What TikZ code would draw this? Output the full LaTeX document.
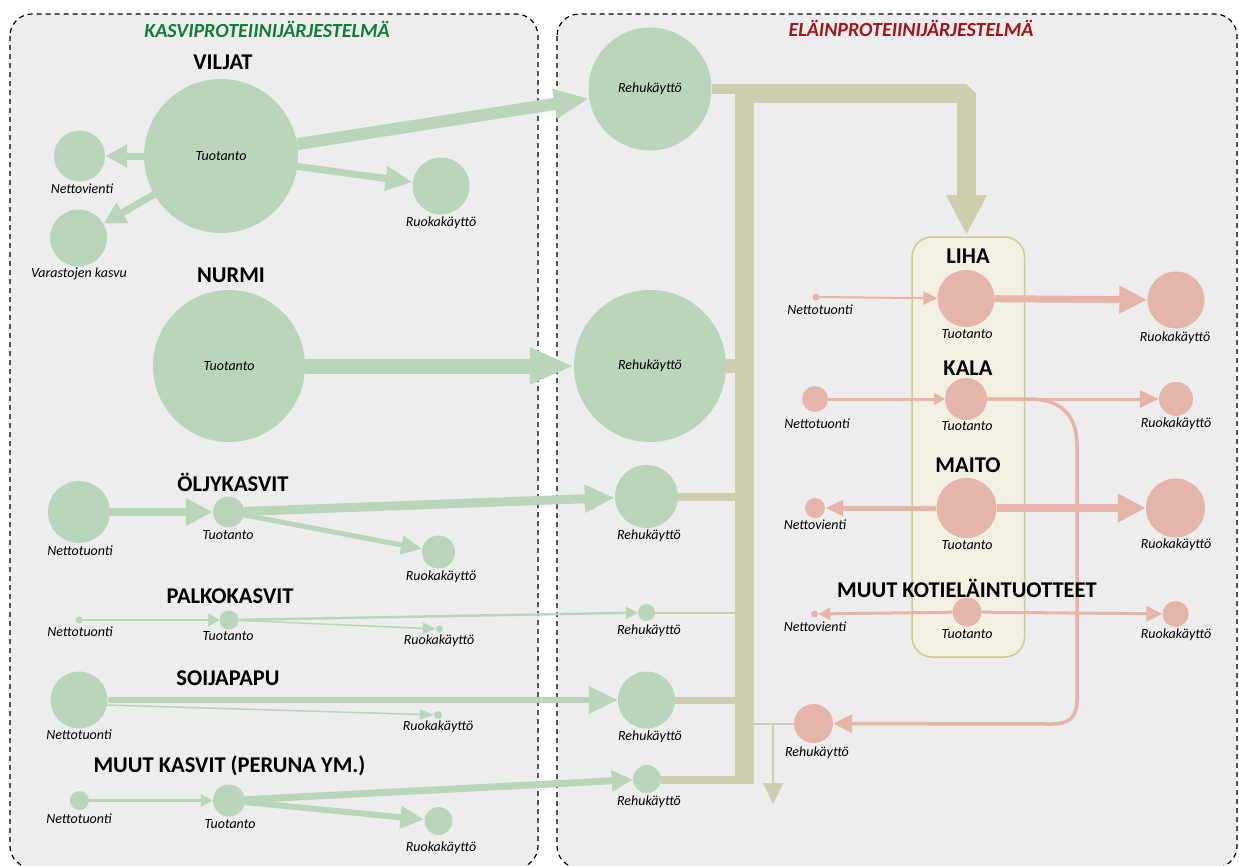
\documentclass[tikz,border=0pt]{standalone}
\usepackage{fontspec}
\setmainfont{Carlito}
\usetikzlibrary{arrows.meta}

\definecolor{plant}{HTML}{B9D6BA}
\definecolor{animal}{HTML}{E5B5A9}
\definecolor{feed}{HTML}{CFCEB0}
\definecolor{panel}{HTML}{EDEDED}
\definecolor{boxfill}{HTML}{F2F0E2}
\definecolor{boxline}{HTML}{CDCA96}
\definecolor{titlegreen}{HTML}{117A3C}
\definecolor{titlered}{HTML}{A0141C}

% small italic labels and bold group headings
\newcommand{\lbl}[1]{{\fontsize{14}{16}\selectfont\itshape #1}}
\newcommand{\hdg}[1]{{\fontsize{22.5}{24}\selectfont\bfseries #1}}

\tikzset{
  pc/.style={circle, fill=plant, inner sep=0pt, minimum size=#1},
  ac/.style={circle, fill=animal, inner sep=0pt, minimum size=#1},
  lab/.style={inner sep=0pt, anchor=center},
  head/.style={inner sep=0pt, anchor=center},
  flow/.style n args={4}{draw=#1, line width=#2, -{Triangle[length=#3, width=#4]}},
  feedbar/.style={draw=feed, line width=#1},
  panelbox/.style={draw=black, fill=panel, line width=1.2pt, dash pattern=on 5pt off 4pt, rounded corners=22pt},
}

\begin{document}
\begin{tikzpicture}[x=1pt, y=-1pt]
\useasboundingbox (0,0) rectangle (1239,865);
\fill[white] (0,0) rectangle (1239,865);

% the two systems
\draw[panelbox] (10,14) rectangle (538,868);
\draw[panelbox] (557,14) rectangle (1237,868);

% animal production box
\draw[draw=boxline, fill=boxfill, line width=1.5pt, rounded corners=20pt] (912,237) rectangle (1024.5,657);

% ---------- plant circles ----------
\node[pc=154] (vt) at (221,156) {\lbl{Tuotanto}};
\node[pc=51]  (vn) at (79.5,156) {};
\node[pc=57]  (vv) at (78.5,238) {};
\node[pc=57]  (vr) at (441,186) {};
\node[pc=152] (nt) at (229,366) {\lbl{Tuotanto}};

\node[pc=62] (on) at (79,512) {};
\node[pc=31] (ot) at (228.5,512) {};
\node[pc=33] (or) at (438.5,552) {};

\node[pc=7]  (pn) at (79,620) {};
\node[pc=19] (pt) at (229,620) {};
\node[pc=7]  (pr) at (439.5,629) {};

\node[pc=57] (sn) at (79,700) {};
\node[pc=8]  (sr) at (438,715) {};

\node[pc=19] (mn) at (79.5,800.5) {};
\node[pc=32] (mt) at (229,800.5) {};
\node[pc=28] (mr) at (438.5,821) {};

% feed use circles
\node[pc=123] (r1) at (650,89) {\lbl{Rehukäyttö}};
\node[pc=152] (r2) at (650,366) {\lbl{Rehukäyttö}};
\node[pc=63]  (r3) at (646.5,496.5) {};
\node[pc=17]  (r4) at (646.5,612.5) {};
\node[pc=57]  (r5) at (646.5,700) {};
\node[pc=28]  (r6) at (647,779) {};

% ---------- animal circles ----------
\node[ac=7]  (ln) at (816,297) {};
\node[ac=57] (lt) at (966,298.5) {};
\node[ac=57] (lr) at (1176,300) {};

\node[ac=26] (kn) at (815,399) {};
\node[ac=42] (kt) at (966,399) {};
\node[ac=34] (kr) at (1176,399) {};

\node[ac=20] (man) at (815,508) {};
\node[ac=60] (mat) at (966.5,508) {};
\node[ac=59] (mar) at (1175.5,508) {};

\node[ac=7]  (kon) at (814.5,614) {};
\node[ac=29] (kot) at (967,612) {};
\node[ac=26] (kor) at (1175.6,614) {};

\node[ac=39] (kfr) at (813.5,723.5) {};

% ---------- feed collector ----------
\coordinate (busbot) at (744,784);
\coordinate (busleft) at (744,93.5);
\coordinate (busright) at (966.5,93.5);
\coordinate (feedin) at (966.5,235);
\draw[feedbar=19pt, line join=bevel, -{Triangle[length=40pt, width=38pt]}]
  (busbot) -- (busleft) -- (busright) -- (feedin);

\draw[feedbar=10pt] (r1.east) -- (r1.east -| busbot);
\draw[feedbar=14pt] (r2.east) -- (r2.east -| busbot);
\draw[feedbar=8pt]  (r3.east) -- (r3.east -| busbot);
\draw[feedbar=2pt]  (r4.east) -- (r4.east -| busbot);
\draw[feedbar=7pt]  (r5.east) -- (r5.east -| busbot);
\coordinate (r6in) at (744,780);
\draw[feedbar=8pt]  (r6.east |- r6in) -- (r6in);

% branch to fish feed use
\coordinate (tap) at (753,723.5);
\coordinate (drop) at (773,723.5);
\coordinate (dropend) at (773,804);
\draw[feedbar=2pt] (tap) -- (kfr);
\draw[flow={feed}{2pt}{21pt}{20pt}] (drop) -- (dropend);

% ---------- plant flows ----------
\draw[flow={plant}{7pt}{22pt}{21pt}] (vt) -- (vn);
\draw[flow={plant}{7pt}{22pt}{22pt}] (vt) -- (vv);
\draw[flow={plant}{7pt}{27pt}{23pt}] (vt) -- (vr);
\draw[flow={plant}{12pt}{35pt}{28pt}] (vt) -- (r1);
\draw[flow={plant}{15pt}{44pt}{34pt}] (nt) -- (r2);

\draw[flow={plant}{8pt}{27pt}{26pt}] (on) -- (ot);
\draw[flow={plant}{9pt}{30pt}{26pt}] (ot) -- (r3);
\draw[flow={plant}{5pt}{21pt}{18pt}] (ot) -- (or);

\draw[flow={plant}{2pt}{11pt}{13pt}] (pn) -- (pt);
\draw[flow={plant}{2.5pt}{12pt}{12pt}] (pt) -- (r4);
\draw[flow={plant}{1.5pt}{13pt}{11pt}] (pt) -- (pr);

\draw[flow={plant}{6.5pt}{29pt}{26pt}] (sn) -- (r5);
\draw[flow={plant}{1.5pt}{14pt}{10pt}] (sn.-10) -- (sr);

\draw[flow={plant}{3pt}{12pt}{12pt}] (mn) -- (mt);
\draw[flow={plant}{7pt}{21pt}{20pt}] (mt) -- (r6);
\draw[flow={plant}{6pt}{24pt}{21pt}] (mt) -- (mr);

% ---------- animal flows ----------
\draw[flow={animal}{2pt}{14pt}{13pt}] (ln) -- (lt);
\draw[flow={animal}{7pt}{28pt}{26pt}] (lt) -- (lr);
\draw[flow={animal}{3pt}{11pt}{12pt}] (kn) -- (kt);
\draw[flow={animal}{3pt}{19pt}{17pt}] (kt) -- (kr);
\draw[flow={animal}{5pt}{18pt}{15pt}] (mat) -- (man);
\draw[flow={animal}{8pt}{28pt}{27pt}] (mat) -- (mar);
\draw[flow={animal}{3pt}{12pt}{12pt}] (kot) -- (kon);
\draw[flow={animal}{3pt}{16pt}{15pt}] (kot) -- (kor);

% fish used as feed
\draw[flow={animal}{3.5pt}{19pt}{18pt}]
  (kt.east) -- (1030,399) .. controls (1060,399) and (1077,415) .. (1077,445)
  -- (1077,700) .. controls (1077,718) and (1068,724) .. (1052,724) -- (kfr);

% ---------- labels ----------
\node[lab] (vnL) at (82,189) {\lbl{Nettovienti}};
\node[lab] (vvL) at (79,274) {\lbl{Varastojen kasvu}};
\node[lab] (vrL) at (441,223) {\lbl{Ruokakäyttö}};

\node[lab] (onL) at (80,551) {\lbl{Nettotuonti}};
\node[lab] (otL) at (228,535) {\lbl{Tuotanto}};
\node[lab] (orL) at (441,577) {\lbl{Ruokakäyttö}};

\node[lab] (pnL) at (80,632) {\lbl{Nettotuonti}};
\node[lab] (ptL) at (228,636) {\lbl{Tuotanto}};
\node[lab] (prL) at (439,641) {\lbl{Ruokakäyttö}};

\node[lab] (snL) at (79,735) {\lbl{Nettotuonti}};
\node[lab] (srL) at (438,727) {\lbl{Ruokakäyttö}};

\node[lab] (mnL) at (79,819) {\lbl{Nettotuonti}};
\node[lab] (mtL) at (230,824) {\lbl{Tuotanto}};
\node[lab] (mrL) at (441,848) {\lbl{Ruokakäyttö}};

\node[lab] (r3L) at (649,536) {\lbl{Rehukäyttö}};
\node[lab] (r4L) at (649,631) {\lbl{Rehukäyttö}};
\node[lab] (r5L) at (650,737) {\lbl{Rehukäyttö}};
\node[lab] (r6L) at (649,802) {\lbl{Rehukäyttö}};

\node[lab] (lnL) at (820,310) {\lbl{Nettotuonti}};
\node[lab] (ltL) at (967,334) {\lbl{Tuotanto}};
\node[lab] (lrL) at (1175,338) {\lbl{Ruokakäyttö}};
\node[lab] (knL) at (817,424) {\lbl{Nettotuonti}};
\node[lab] (ktL) at (967,426) {\lbl{Tuotanto}};
\node[lab] (krL) at (1176,424) {\lbl{Ruokakäyttö}};
\node[lab] (manL) at (815,525) {\lbl{Nettovienti}};
\node[lab] (matL) at (967,545) {\lbl{Tuotanto}};
\node[lab] (marL) at (1176,545) {\lbl{Ruokakäyttö}};
\node[lab] (konL) at (815,627) {\lbl{Nettovienti}};
\node[lab] (kotL) at (967,634) {\lbl{Tuotanto}};
\node[lab] (korL) at (1176,635) {\lbl{Ruokakäyttö}};
\node[lab] (kfrL) at (817,753) {\lbl{Rehukäyttö}};

% ---------- headings ----------
\node[head, text=titlegreen] (plantT) at (267,29) {\fontsize{20}{22}\selectfont\bfseries\itshape KASVIPROTEIINIJÄRJESTELMÄ};
\node[head, text=titlered] (animalT) at (911,28) {\fontsize{20}{22}\selectfont\bfseries\itshape ELÄINPROTEIINIJÄRJESTELMÄ};

\node[head] (hViljat) at (223,62) {\hdg{VILJAT}};
\node[head] (hNurmi) at (231,275) {\hdg{NURMI}};
\node[head] (hOljy) at (233,482) {\hdg{ÖLJYKASVIT}};
\node[head] (hPalko) at (230,596) {\hdg{PALKOKASVIT}};
\node[head] (hSoija) at (228,678) {\hdg{SOIJAPAPU}};
\node[head] (hMuut) at (229.5,766) {\hdg{MUUT KASVIT (PERUNA YM.)}};

\node[head] (hLiha) at (968,256) {\hdg{LIHA}};
\node[head] (hKala) at (968,368) {\hdg{KALA}};
\node[head] (hMaito) at (968,465) {\hdg{MAITO}};
\node[head] (hKoti) at (967,588) {\hdg{MUUT KOTIELÄINTUOTTEET}};
\end{tikzpicture}
\end{document}
